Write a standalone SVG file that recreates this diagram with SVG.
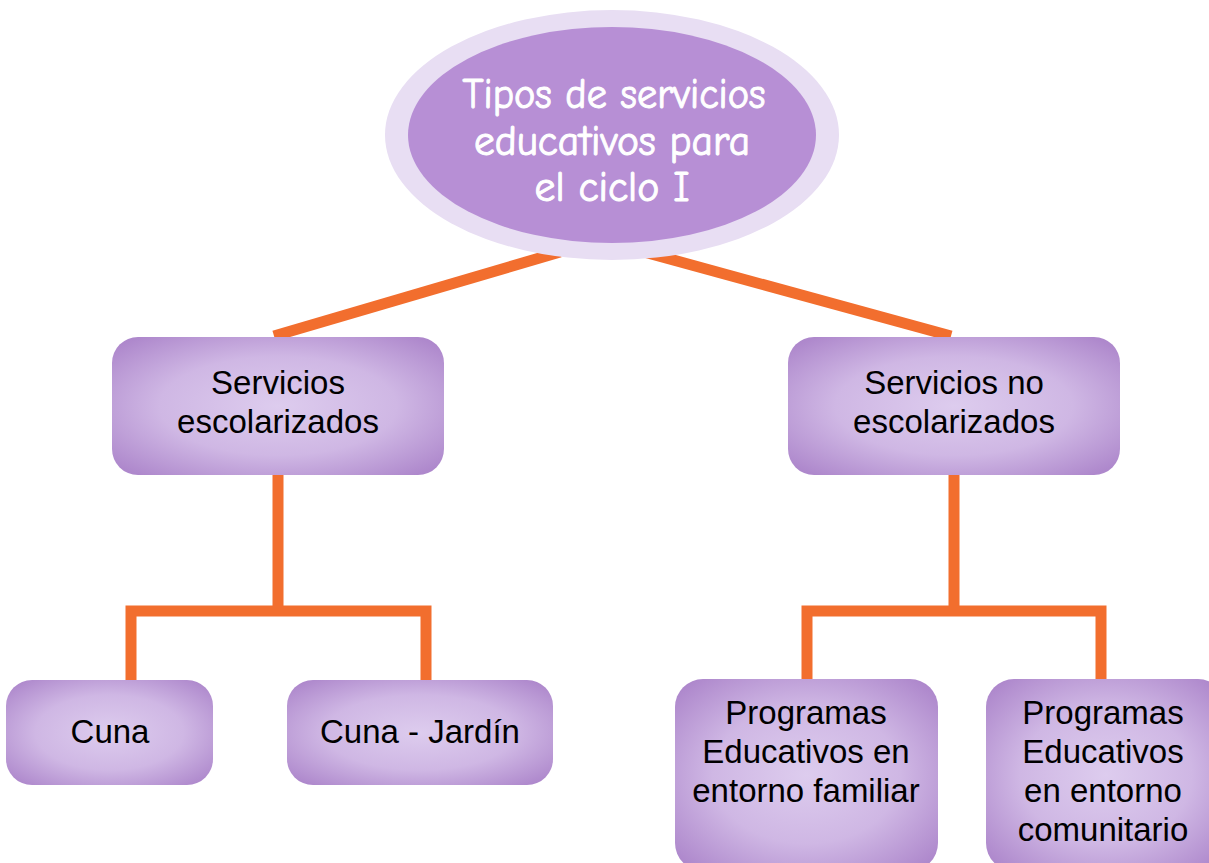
<svg xmlns="http://www.w3.org/2000/svg" width="1209" height="863" viewBox="0 0 1209 863">
<defs>
<radialGradient id="g" cx="50%" cy="50%" r="65%">
<stop offset="0" stop-color="#DDCCEE"/>
<stop offset="0.55" stop-color="#CFB7E4"/>
<stop offset="1" stop-color="#AE88CC"/>
</radialGradient>
<style>
.box{fill:url(#g)}
.t{font-family:"Liberation Sans",Arial,sans-serif;font-size:33px;fill:#000;text-anchor:middle}
.h{font-family:"Comic Neue","DejaVu Sans","Liberation Sans",sans-serif;font-size:42px;fill:#fff;stroke:#fff;stroke-width:1;text-anchor:middle}
.c{stroke:#F26E2E;stroke-width:11;fill:none;stroke-linejoin:miter;stroke-linecap:butt}
</style>
</defs>
<rect width="1209" height="863" fill="#fff"/>
<g id="connectors">
<line class="c" x1="274" y1="336" x2="560" y2="252"/>
<line class="c" x1="644" y1="252" x2="951" y2="336"/>
<path class="c" d="M278 474 V611"/>
<path class="c" d="M131 682 V611 H426 V682"/>
<path class="c" d="M954 474 V611"/>
<path class="c" d="M807 682 V611 H1101 V682"/>
</g>
<g id="root">
<ellipse cx="612" cy="135" rx="227" ry="125" fill="#E8DEF3"/>
<ellipse cx="612" cy="135" rx="204" ry="108" fill="#B78FD5"/>
<text class="h" x="614" y="108" textLength="303" lengthAdjust="spacingAndGlyphs">Tipos de servicios</text>
<text class="h" x="612" y="155" textLength="276" lengthAdjust="spacingAndGlyphs">educativos para</text>
<text class="h" x="612" y="201" textLength="155" lengthAdjust="spacingAndGlyphs">el ciclo I</text>
</g>
<g id="n1">
<rect class="box" x="112" y="337" width="332" height="138" rx="26"/>
<text class="t" x="278" y="394">Servicios</text>
<text class="t" x="278" y="433">escolarizados</text>
</g>
<g id="n2">
<rect class="box" x="788" y="337" width="332" height="138" rx="26"/>
<text class="t" x="954" y="394">Servicios no</text>
<text class="t" x="954" y="433">escolarizados</text>
</g>
<g id="n3">
<rect class="box" x="6" y="680" width="207" height="105" rx="26"/>
<text class="t" x="110" y="743">Cuna</text>
</g>
<g id="n4">
<rect class="box" x="287" y="680" width="266" height="105" rx="26"/>
<text class="t" x="420" y="743">Cuna - Jardín</text>
</g>
<g id="n5">
<rect class="box" x="675" y="679" width="263" height="192" rx="28"/>
<text class="t" x="806" y="724">Programas</text>
<text class="t" x="806" y="763">Educativos en</text>
<text class="t" x="806" y="802">entorno familiar</text>
</g>
<g id="n6">
<rect class="box" x="986" y="679" width="240" height="192" rx="28"/>
<text class="t" x="1103" y="724">Programas</text>
<text class="t" x="1103" y="763">Educativos</text>
<text class="t" x="1103" y="802">en entorno</text>
<text class="t" x="1103" y="841">comunitario</text>
</g>
</svg>
